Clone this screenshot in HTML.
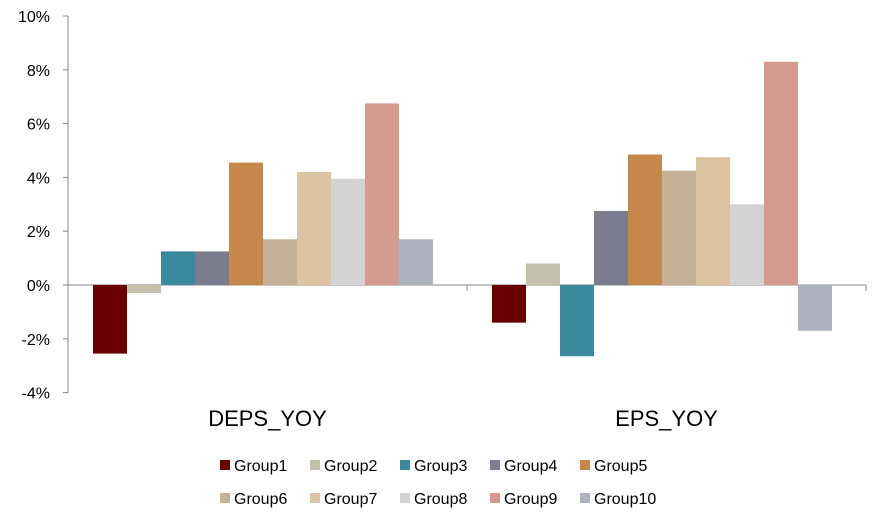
<!DOCTYPE html>
<html><head><meta charset="utf-8"><style>
body{margin:0;background:#fff;}
svg{font-family:"Liberation Sans",Arial,sans-serif;}
</style></head><body>
<svg id="chart" width="892" height="526"></svg>
<script>
const categories=["DEPS_YOY","EPS_YOY"];
const groups=["Group1","Group2","Group3","Group4","Group5","Group6","Group7","Group8","Group9","Group10"];
const depsValues=[-2.55,-0.3,1.25,1.25,4.55,1.7,4.2,3.95,6.75,1.7];
const epsValues=[-1.4,0.8,-2.65,2.75,4.85,4.25,4.75,3.0,8.3,-1.7];
const yTicks=[-4,-2,0,2,4,6,8,10];
const colors=["#6b0000","#c3c1ad","#3a8a9e","#7b7d8f","#c5874a","#c4b196","#dcc3a1","#d3d3d6","#d49a90","#aeb1bf"];
const series=[depsValues,epsValues];
const NS="http://www.w3.org/2000/svg";
const svg=document.getElementById('chart');
const x0=68,catW=399,barW=34,pad=25;
function y(v){return 285-v*26.9;}
function mk(t,a,p){const e=document.createElementNS(NS,t);for(const k in a)e.setAttribute(k,a[k]);(p||svg).appendChild(e);return e;}
const ax=mk('line',{x1:x0,y1:y(10),x2:x0,y2:y(-4),stroke:'#888','stroke-width':1});


yTicks.forEach(t=>{
  const l=mk('line',{x1:x0-5,y1:y(t),x2:x0,y2:y(t),stroke:'#888'});
  
  
  const tx=mk('text',{x:50,y:y(t)+6,'text-anchor':'end','font-size':16,fill:'#000'});
  tx.textContent=t+'%';
  
  
});
const zl=mk('line',{x1:x0,y1:y(0),x2:x0+2*catW,y2:y(0),stroke:'#888'});


for(let i=0;i<=2;i++){
  const l=mk('line',{x1:x0+i*catW,y1:y(0),x2:x0+i*catW,y2:y(0)+6,stroke:'#888'});
  
  
}
categories.forEach((c,ci)=>{
  series[ci].forEach((v,gi)=>{
    const bx=x0+ci*catW+pad+gi*barW;
    const r=mk('rect',{x:bx,y:Math.min(y(v),y(0)),width:barW,height:Math.abs(y(v)-y(0)),fill:colors[gi]});
    
    
  });
  const t=mk('text',{x:x0+ci*catW+catW/2,y:426,'text-anchor':'middle','font-size':22,fill:'#000'});
  t.textContent=c;
  
  
});
groups.forEach((g,i)=>{
  const row=Math.floor(i/5),col=i%5;
  const lx=220+col*90,ly=465+row*33;
  const gEl=mk('g',{});
  
  
  mk('rect',{x:lx,y:ly-5,width:10,height:10,fill:colors[i]},gEl);
  const t=mk('text',{x:lx+14,y:ly+6,'font-size':16,fill:'#000'},gEl);
  t.textContent=g;
});
</script>
</body></html>
